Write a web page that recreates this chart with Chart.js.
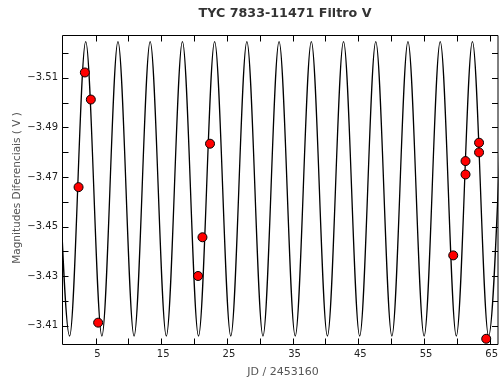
<!DOCTYPE html>
<html><head><meta charset="utf-8">
<script src="https://cdn.jsdelivr.net/npm/chart.js@4/dist/chart.umd.min.js"></script>
<style>html,body{margin:0;padding:0;background:#fff;overflow:hidden}#wrap{width:500px;height:385px;overflow:hidden}</style>
</head><body><div id="wrap"><canvas id="c" width="504" height="385"></canvas></div>
<script>
// ---- data ----
const chartTitle = 'TYC 7833-11471 Filtro V';
const xTitle = 'JD / 2453160';
const yTitle = 'Magnitudes Diferenciais ( V )';

// observations (JD - 2453160, differential magnitude)
const obsJD  = [2.42, 3.38, 4.29, 5.40, 20.61, 21.28, 22.43, 59.45, 61.32, 61.32, 63.38, 63.38, 64.47];
const obsMag = [-3.4659, -3.5121, -3.5012, -3.4113, -3.4301, -3.4457, -3.4834, -3.4384, -3.4710, -3.4764, -3.4799, -3.4838, -3.4048];

// fitted curve: successive maxima / minima
const fitJD  = [-1.39, 1.06, 3.51, 5.97, 8.42, 10.87, 13.32, 15.78, 18.23, 20.68, 23.13, 25.59, 28.04, 30.49,
                32.94, 35.40, 37.85, 40.30, 42.75, 45.21, 47.66, 50.11, 52.56, 55.02, 57.47, 59.92, 62.37, 64.83, 67.28];
const fitMag = [-3.5245, -3.4059, -3.5245, -3.4059, -3.5245, -3.4059, -3.5245, -3.4059, -3.5245, -3.4059,
                -3.5245, -3.4059, -3.5245, -3.4059, -3.5245, -3.4059, -3.5245, -3.4059, -3.5245, -3.4059,
                -3.5245, -3.4059, -3.5245, -3.4059, -3.5245, -3.4059, -3.5245, -3.4059, -3.5245];

// axis ticks
const xTicks = [5, 10, 15, 20, 25, 30, 35, 40, 45, 50, 55, 60, 65];
const xTickLabels = [5, 15, 25, 35, 45, 55, 65];
const yTicks = [-3.52, -3.51, -3.50, -3.49, -3.48, -3.47, -3.46, -3.45, -3.44, -3.43, -3.42, -3.41];
const yTickLabels = [-3.51, -3.49, -3.47, -3.45, -3.43, -3.41];
const xRange = [-0.1, 66.34];
const yRange = [-3.5272, -3.4027];

// ---- chart ----
const FONT = 'DejaVu Sans';
const near = (a, b) => Math.abs(a - b) < 1e-6;

const framePlugin = {
  id: 'frame',
  afterDraw(chart) {
    const ctx = chart.ctx, a = chart.chartArea;
    const xs = chart.scales.x, ys = chart.scales.y;
    ctx.save();
    ctx.strokeStyle = '#000';
    ctx.lineWidth = 1;
    ctx.beginPath();
    const L = a.left + 0.5, R = a.right - 0.5, T = a.top + 0.5, B = a.bottom + 0.5;
    ctx.rect(L, T, R - L, B - T);
    // inward ticks
    const TL = 6;
    xTicks.forEach(v => {
      const p = Math.round(xs.getPixelForValue(v)) + 0.5;
      ctx.moveTo(p, B); ctx.lineTo(p, B - TL);
      ctx.moveTo(p, T); ctx.lineTo(p, T + TL);
    });
    yTicks.forEach(v => {
      const p = Math.round(ys.getPixelForValue(v)) + 0.5;
      ctx.moveTo(L, p); ctx.lineTo(L + TL, p);
      ctx.moveTo(R, p); ctx.lineTo(R - TL, p);
    });
    ctx.stroke();
    // titles
    ctx.fillStyle = '#333';
    ctx.textAlign = 'center';
    ctx.textBaseline = 'middle';
    ctx.font = 'bold 12.7px "' + FONT + '"';
    ctx.fillText(chartTitle, 285, 13.5);
    ctx.fillStyle = '#555';
    ctx.font = '11px "' + FONT + '"';
    ctx.fillText(xTitle, 283, 372.5);
    ctx.translate(17.5, 188);
    ctx.rotate(-Math.PI / 2);
    ctx.font = '10.5px "' + FONT + '"';
    ctx.fillText(yTitle, 0, 0);
    ctx.restore();
  }
};

const noPad = s => { s.paddingLeft = 0; s.paddingRight = 0; s.paddingTop = 0; s.paddingBottom = 0; };

new Chart(document.getElementById('c'), {
  type: 'scatter',
  data: {
    datasets: [
      {
        label: 'obs',
        data: obsJD.map((x, i) => ({x, y: obsMag[i]})),
        pointRadius: 4.5,
        pointBackgroundColor: '#ff0000',
        pointBorderColor: '#000',
        pointBorderWidth: 1,
        showLine: false,
        clip: false
      },
      {
        label: 'fit',
        data: fitJD.map((x, i) => ({x, y: fitMag[i]})),
        showLine: true,
        pointRadius: 0,
        borderColor: '#000',
        borderWidth: 1.3,
        cubicInterpolationMode: 'monotone',
        fill: false
      }
    ]
  },
  options: {
    responsive: false,
    devicePixelRatio: 1,
    animation: false,
    events: [],
    layout: { padding: { top: 35, right: 0, left: 0, bottom: 0 } },
    plugins: { legend: { display: false }, tooltip: { enabled: false }, title: { display: false } },
    scales: {
      x: {
        type: 'linear',
        min: xRange[0], max: xRange[1],
        afterBuildTicks: s => { s.ticks = xTicks.map(v => ({value: v})); },
        afterFit: s => { s.height = 41; noPad(s); },
        grid: { display: false, drawTicks: false },
        border: { display: false },
        ticks: {
          autoSkip: false, maxRotation: 0, padding: 4, labelOffset: 2,
          color: '#222', font: { family: FONT, size: 10 },
          callback: v => xTickLabels.some(t => near(t, v)) ? String(v) : ''
        }
      },
      y: {
        type: 'linear',
        reverse: true,
        min: yRange[0], max: yRange[1],
        afterBuildTicks: s => { s.ticks = yTicks.map(v => ({value: v})); },
        afterFit: s => { s.width = 62; noPad(s); },
        grid: { display: false, drawTicks: false },
        border: { display: false },
        ticks: {
          autoSkip: false, padding: 4,
          color: '#222', font: { family: FONT, size: 10 },
          callback: v => yTickLabels.some(t => near(t, v)) ? '\u2212' + Math.abs(v).toFixed(2) : ''
        }
      }
    }
  },
  plugins: [framePlugin]
});
</script>
</body></html>
